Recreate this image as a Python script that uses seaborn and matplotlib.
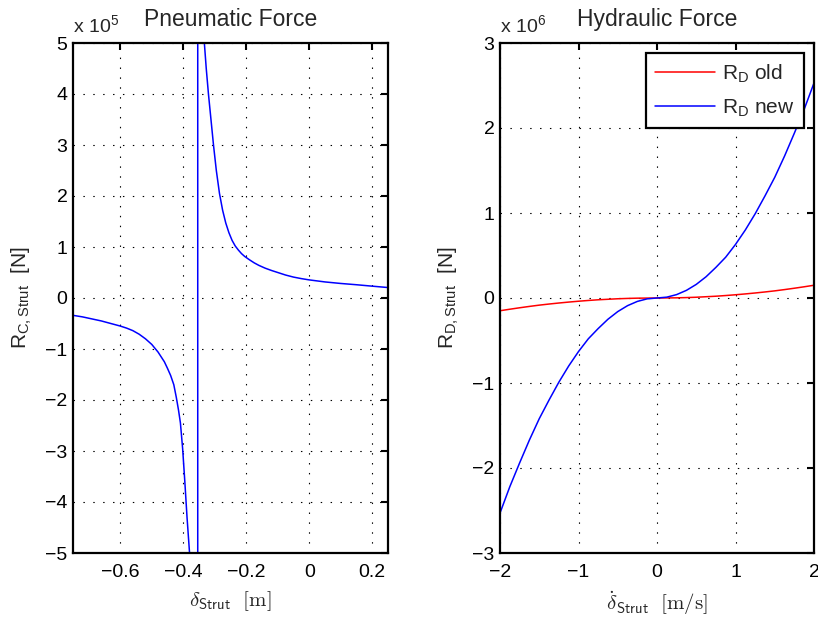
import numpy as np
import pandas as pd
import seaborn as sns
import matplotlib.pyplot as plt
from matplotlib.ticker import FuncFormatter

# pneumatic force, left plot (in units of 1e5 N)
delta_c = [-0.75, -0.72, -0.69, -0.66, -0.63, -0.60, -0.58, -0.56, -0.54, -0.52,
           -0.50, -0.48, -0.46, -0.45, -0.44, -0.43, -0.422, -0.415, -0.409, -0.402,
           -0.395, -0.388, -0.380, -0.375, -0.354,
           -0.354, -0.336, -0.333, -0.327, -0.320, -0.312, -0.304, -0.295, -0.285, -0.275,
           -0.265, -0.255, -0.245, -0.235, -0.225, -0.215, -0.205, -0.19, -0.175, -0.16,
           -0.14, -0.12, -0.10, -0.075, -0.05, -0.025, 0.0, 0.05, 0.10, 0.15,
           0.20, 0.25]
r_c = [-0.34, -0.37, -0.41, -0.45, -0.50, -0.55, -0.59, -0.64, -0.71, -0.80,
       -0.91, -1.06, -1.25, -1.38, -1.52, -1.70, -1.95, -2.2, -2.45, -2.95,
       -3.6, -4.3, -5.0, -5.5, -100.0,
       100.0, 5.6, 5.0, 4.5, 4.0, 3.5, 3.0, 2.5, 2.05, 1.72,
       1.47, 1.28, 1.13, 1.02, 0.94, 0.87, 0.815, 0.75, 0.69, 0.64,
       0.585, 0.54, 0.50, 0.45, 0.41, 0.38, 0.355, 0.315, 0.285, 0.26,
       0.232, 0.205]

# hydraulic force, right plot (in units of 1e6 N)
v_d = [-2.0, -1.875, -1.75, -1.625, -1.5, -1.375, -1.25, -1.125, -1.0, -0.875,
       -0.75, -0.625, -0.5, -0.375, -0.25, -0.125, 0.0, 0.125, 0.25, 0.375,
       0.5, 0.625, 0.75, 0.875, 1.0, 1.125, 1.25, 1.375, 1.5, 1.625,
       1.75, 1.875, 2.0]
r_d_old = [-0.150, -0.132, -0.115, -0.099, -0.084, -0.071, -0.059, -0.048, -0.038, -0.029,
           -0.021, -0.015, -0.009, -0.005, -0.002, -0.001, 0.0, 0.001, 0.002, 0.005,
           0.009, 0.015, 0.021, 0.029, 0.038, 0.048, 0.059, 0.071, 0.084, 0.099,
           0.115, 0.132, 0.150]
r_d_new = [-2.53, -2.22, -1.94, -1.67, -1.42, -1.20, -0.99, -0.80, -0.63, -0.48,
           -0.36, -0.25, -0.16, -0.09, -0.04, -0.01, 0.0, 0.01, 0.04, 0.09,
           0.16, 0.25, 0.36, 0.48, 0.63, 0.80, 0.99, 1.20, 1.42, 1.67,
           1.94, 2.22, 2.53]

sns.set_style('white')
plt.rcParams['font.family'] = ['Liberation Sans', 'DejaVu Sans']
plt.rcParams['mathtext.fontset'] = 'custom'
plt.rcParams['mathtext.rm'] = 'Liberation Sans'
plt.rcParams['mathtext.sf'] = 'Liberation Sans'
plt.rcParams['mathtext.it'] = 'Liberation Sans:italic'

fig = plt.figure(figsize=(8.18, 6.21), dpi=100)
W, H = 818, 621
ax1 = fig.add_axes([73 / W, 1 - 553 / H, 315 / W, 510 / H])
ax2 = fig.add_axes([500 / W, 1 - 553 / H, 314 / W, 510 / H])


def fmt(v, p):
    return ('%g' % round(v, 6)).replace('-', '\u2212')


def style(ax, power):
    ax.tick_params(direction='in', top=True, right=True, length=5, width=1.5,
                   labelsize=14, colors='black')
    ax.tick_params(axis='x', pad=8)
    ax.tick_params(axis='y', pad=4)
    for s in ax.spines.values():
        s.set_linewidth(1.6)
        s.set_color('black')
    ax.grid(True, color='black', linestyle=(0, (1.3, 7.6)), linewidth=0.8)
    ax.yaxis.set_major_formatter(FuncFormatter(fmt))
    ax.xaxis.set_major_formatter(FuncFormatter(fmt))
    ax.text(0.0, 1.021, r'x 10$^{\mathsf{%d}}$' % power, transform=ax.transAxes,
            fontsize=14, ha='left', va='baseline')


pneu = pd.DataFrame({'delta': delta_c, 'R': r_c})
sns.lineplot(data=pneu, x='delta', y='R', sort=False, estimator=None,
             color='blue', linewidth=1.1, ax=ax1)
ax1.set_xlim(-0.75, 0.25)
ax1.set_ylim(-5, 5)
ax1.set_xticks([-0.6, -0.4, -0.2, 0, 0.2])
ax1.set_yticks(np.arange(-5, 6))
style(ax1, 5)
ax1.set_title('Pneumatic Force', fontsize=16.5, pad=12)
ax1.set_xlabel(r'$\delta_{\mathsf{Strut}}\ \ [\mathrm{m}]$', fontsize=15, labelpad=6,
               math_fontfamily='cm')
ax1.set_ylabel(r'R$_{\mathsf{C,Strut}}$  [N]', fontsize=15, labelpad=8)

hyd = pd.DataFrame({'v': v_d, 'old': r_d_old, 'new': r_d_new})
sns.lineplot(data=hyd, x='v', y='old', color='red', linewidth=1.1, ax=ax2,
             label=r'R$_{\mathsf{D}}$ old')
sns.lineplot(data=hyd, x='v', y='new', color='blue', linewidth=1.1, ax=ax2,
             label=r'R$_{\mathsf{D}}$ new')
ax2.set_xlim(-2, 2)
ax2.set_ylim(-3, 3)
ax2.set_xticks([-2, -1, 0, 1, 2])
ax2.set_yticks(np.arange(-3, 4))
style(ax2, 6)
ax2.set_title('Hydraulic Force', fontsize=16.5, pad=12)
ax2.set_xlabel(r'$\dot{\delta}_{\mathsf{Strut}}\ \ [\mathrm{m/s}]$', fontsize=15, labelpad=6,
               math_fontfamily='cm')
ax2.set_ylabel(r'R$_{\mathsf{D,Strut}}$  [N]', fontsize=15, labelpad=8)
leg = ax2.legend(loc='upper right', fontsize=15, frameon=True, fancybox=False,
                 handlelength=2.9, handletextpad=0.3, labelspacing=0.6,
                 borderpad=0.45, edgecolor='black')
leg.get_frame().set_linewidth(1.6)
leg.get_frame().set_alpha(1)

fig.savefig('out.png', dpi=100)
